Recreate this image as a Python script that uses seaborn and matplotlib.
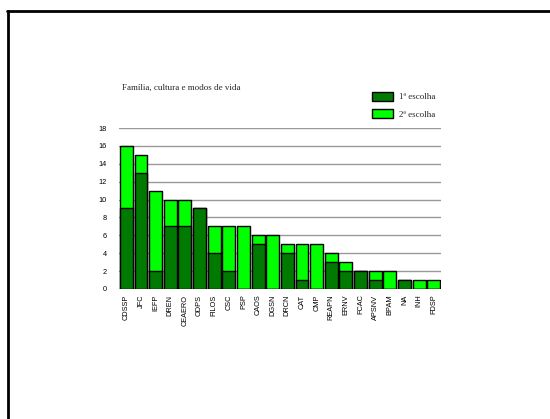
import matplotlib
matplotlib.use("Agg")
import matplotlib.pyplot as plt
from matplotlib.patches import Patch
import seaborn as sns
import pandas as pd

categories = ["CDSSP", "JFC", "IEFP", "DREN", "CEAERO", "ODPS", "FILOS", "CSC",
              "PSP", "CAOS", "DGSN", "DRCN", "CAT", "CMP", "REAPN", "ERNV",
              "FCAC", "APSNV", "BPAM", "NA", "INH", "FDSP"]
first_choice = [9, 13, 2, 7, 7, 9, 4, 2, 0, 5, 0, 4, 1, 0, 3, 2, 2, 1, 0, 1, 0, 0]
second_choice = [7, 2, 9, 3, 3, 0, 3, 5, 7, 1, 6, 1, 4, 5, 1, 1, 0, 1, 2, 0, 1, 1]
y_ticks = [0, 2, 4, 6, 8, 10, 12, 14, 16, 18]
title = "Família, cultura e modos de vida"
legend_labels = ["1ª escolha", "2ª escolha"]

dark_green = "#007A00"
light_green = "#00FF00"

df = pd.DataFrame({
    "cat": categories,
    "first": first_choice,
    "total": [a + b for a, b in zip(first_choice, second_choice)],
})

sns.set_style("white")
plt.rcParams["font.family"] = ["Liberation Sans", "DejaVu Sans"]

fig = plt.figure(figsize=(5.5, 4.19), dpi=100)
ax = fig.add_axes([0.2164, 0.3103, 0.5855, 0.3842])

for y in y_ticks:
    ax.axhline(y, color="#999999", lw=1.0, zorder=0)

# stacked bars: totals in light green, first choice drawn over them in dark green
sns.barplot(data=df, x="cat", y="total", color=light_green, saturation=1,
            edgecolor="black", linewidth=1.0, width=0.88, ax=ax, zorder=2)
sns.barplot(data=df, x="cat", y="first", color=dark_green, saturation=1,
            edgecolor="black", linewidth=1.0, width=0.88, ax=ax, zorder=3)

ax.set_xlim(-0.5, len(categories) - 0.5)
ax.set_ylim(0, 18)
ax.set_yticks(y_ticks)
ax.set_xlabel("")
ax.set_ylabel("")
for s in ax.spines.values():
    s.set_visible(False)
ax.tick_params(axis="both", length=0, labelsize=5.3, colors="black")
ax.tick_params(axis="y", pad=9)
ax.tick_params(axis="x", pad=4)
plt.setp(ax.get_xticklabels(), rotation=90)

fig.text(122 / 550, 1 - 88 / 419, title, family=["Liberation Serif"],
         fontsize=6.5, va="center", ha="left")

handles = [Patch(facecolor=dark_green, edgecolor="black", lw=1.0),
           Patch(facecolor=light_green, edgecolor="black", lw=1.0)]
fig.legend(handles, legend_labels, loc="upper left",
           bbox_to_anchor=(370 / 550, 1 - 90 / 419), frameon=False,
           prop={"family": "Liberation Serif", "size": 6.5},
           handlelength=2.4, handleheight=1.15, labelspacing=0.85,
           handletextpad=0.6, borderaxespad=0, borderpad=0.2)

# page frame
fig.add_artist(plt.Line2D([7.5 / 550, 7.5 / 550], [0, 1 - 11.5 / 419],
                          color="black", lw=2, transform=fig.transFigure))
fig.add_artist(plt.Line2D([6.5 / 550, 1], [1 - 11.5 / 419, 1 - 11.5 / 419],
                          color="black", lw=2, transform=fig.transFigure))

fig.savefig("out.png", dpi=100)
